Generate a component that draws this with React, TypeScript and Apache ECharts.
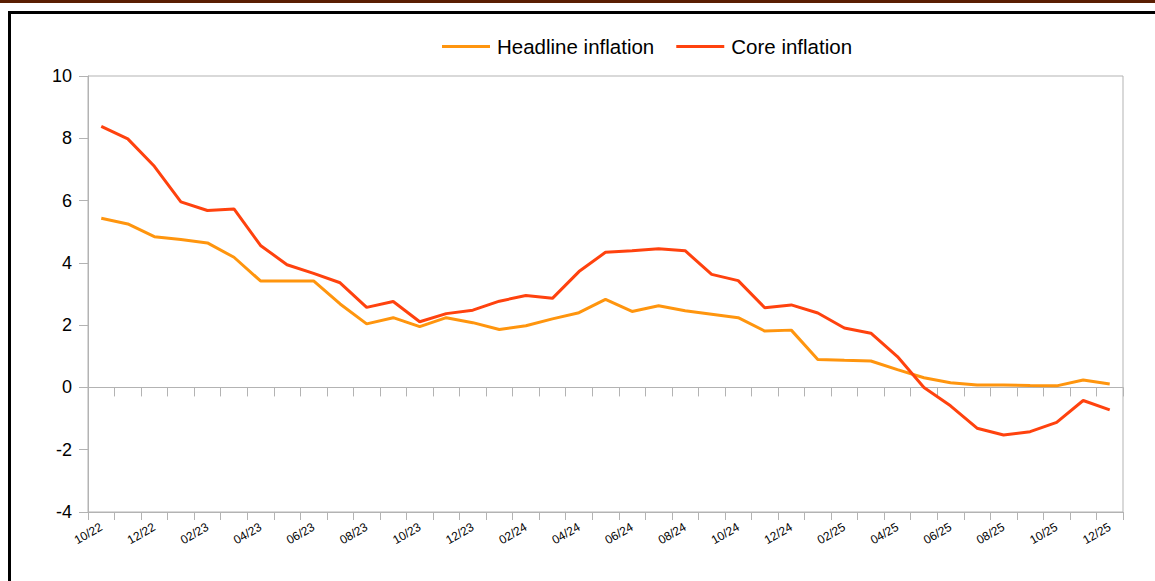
import React, { useEffect, useRef } from "react";
import * as echarts from "echarts";

const categories = [
  "10/22", "11/22", "12/22",
  "01/23", "02/23", "03/23", "04/23", "05/23", "06/23", "07/23", "08/23", "09/23", "10/23", "11/23", "12/23",
  "01/24", "02/24", "03/24", "04/24", "05/24", "06/24", "07/24", "08/24", "09/24", "10/24", "11/24", "12/24",
  "01/25", "02/25", "03/25", "04/25", "05/25", "06/25", "07/25", "08/25", "09/25", "10/25", "11/25", "12/25",
];

const headline = [
  5.43, 5.25, 4.84, 4.75, 4.64, 4.18, 3.42, 3.42, 3.42, 2.68, 2.04, 2.24, 1.95,
  2.24, 2.08, 1.86, 1.98, 2.2, 2.4, 2.83, 2.44, 2.62, 2.46, 2.35, 2.24, 1.81,
  1.84, 0.9, 0.87, 0.85, 0.57, 0.31, 0.15, 0.08, 0.08, 0.06, 0.05, 0.24, 0.11,
];

const core = [
  8.38, 7.98, 7.1, 5.96, 5.68, 5.73, 4.56, 3.94, 3.66, 3.36, 2.57, 2.76, 2.11,
  2.37, 2.48, 2.77, 2.95, 2.86, 3.72, 4.34, 4.39, 4.45, 4.39, 3.63, 3.43, 2.56,
  2.65, 2.39, 1.91, 1.74, 0.99, 0.0, -0.59, -1.31, -1.53, -1.42, -1.12, -0.42, -0.72,
];

const seriesNames = ["Headline inflation", "Core inflation"];

const FONT = "'Liberation Sans', Arial, sans-serif";
const GREY = "#b3b3b3";

export default function App() {
  const ref = useRef<HTMLDivElement>(null);

  useEffect(() => {
    if (!ref.current) return;
    const chart = echarts.init(ref.current, undefined, { renderer: "svg" });
    chart.setOption({
      animation: false,
      backgroundColor: "#ffffff",
      textStyle: { fontFamily: FONT },
      graphic: [
        { type: "rect", shape: { x: 0, y: 0, width: 1155, height: 3 }, style: { fill: "#5a1e02" } },
        { type: "rect", shape: { x: 8, y: 11, width: 1147, height: 3 }, style: { fill: "#000000" } },
        { type: "rect", shape: { x: 8, y: 11, width: 3, height: 570 }, style: { fill: "#000000" } },
      ],
      legend: {
        left: 437,
        top: 31,
        itemGap: 22,
        itemWidth: 48,
        itemHeight: 3,
        icon: "rect",
        textStyle: { fontSize: 20.5, color: "#000000", fontFamily: FONT, padding: [0, 0, 0, 2] },
        data: seriesNames,
      },
      grid: {
        left: 88,
        top: 76,
        right: 32,
        bottom: 69,
        show: true,
        borderColor: GREY,
        borderWidth: 1,
        backgroundColor: "transparent",
      },
      xAxis: [
        {
          type: "category",
          data: categories,
          position: "bottom",
          boundaryGap: true,
          axisLine: { onZero: false, lineStyle: { color: GREY, width: 1 } },
          axisTick: { show: true, interval: 0, length: 8, lineStyle: { color: GREY } },
          axisLabel: {
            interval: 1,
            rotate: 30,
            margin: 14,
            fontSize: 12,
            color: "#000000",
            fontFamily: FONT,
          },
          splitLine: { show: false },
        },
        {
          type: "category",
          data: categories,
          position: "bottom",
          boundaryGap: true,
          axisLine: { onZero: true, lineStyle: { color: GREY, width: 1 } },
          axisTick: { show: true, interval: 0, length: 9, lineStyle: { color: GREY } },
          axisLabel: { show: false },
          splitLine: { show: false },
        },
      ],
      yAxis: {
        type: "value",
        min: -4,
        max: 10,
        interval: 2,
        axisLine: { show: true, lineStyle: { color: GREY, width: 1 } },
        axisTick: { show: true, length: 9, lineStyle: { color: GREY } },
        axisLabel: { fontSize: 18, color: "#000000", margin: 16, fontFamily: FONT },
        splitLine: { show: false },
      },
      series: [
        {
          name: seriesNames[0],
          type: "line",
          xAxisIndex: 0,
          data: headline,
          symbol: "none",
          color: "#ff950e",
          lineStyle: { width: 3, color: "#ff950e" },
          z: 2,
        },
        {
          name: seriesNames[1],
          type: "line",
          xAxisIndex: 0,
          data: core,
          symbol: "none",
          color: "#ff420e",
          lineStyle: { width: 3, color: "#ff420e" },
          z: 3,
        },
      ],
    });
    return () => chart.dispose();
  }, []);

  return (
    <div
      ref={ref}
      style={{ position: "fixed", left: 0, top: 0, width: 1155, height: 581, background: "#fff" }}
    />
  );
}
